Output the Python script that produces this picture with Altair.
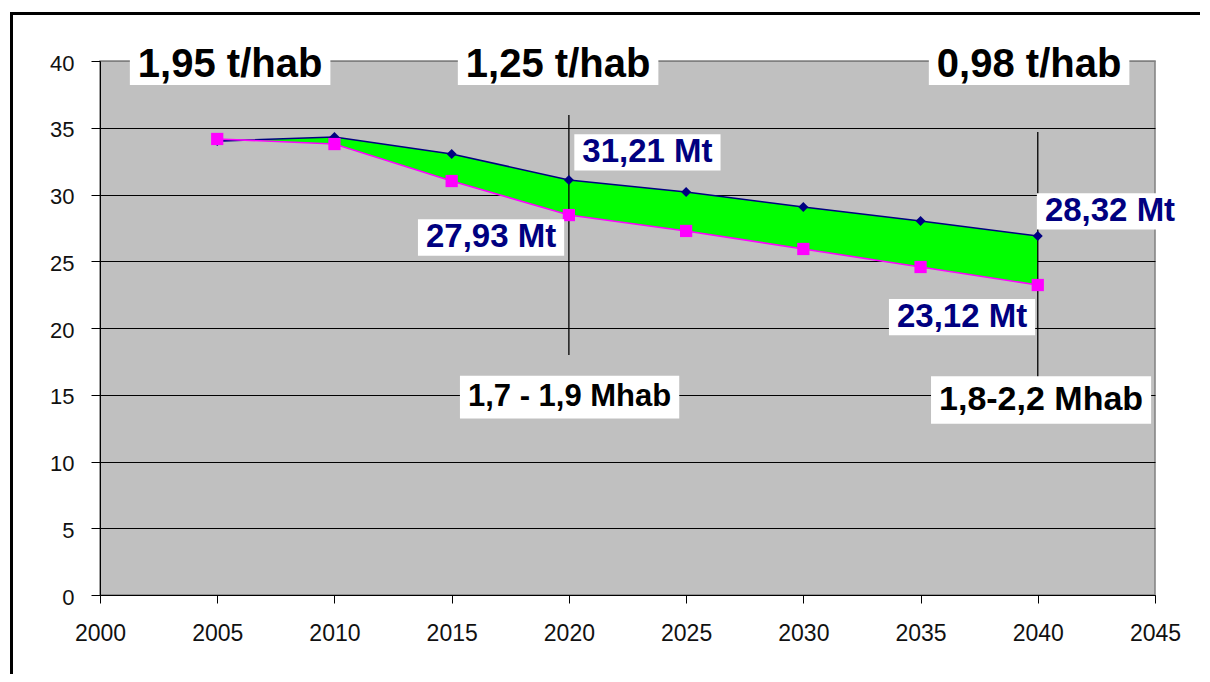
import altair as alt
import pandas as pd

# ---- data ----
years = [2005, 2010, 2015, 2020, 2025, 2030, 2035, 2040]
upper = [34.0, 34.31, 33.03, 31.09, 30.19, 29.06, 28.01, 26.89]   # navy diamonds
lower = [34.16, 33.78, 31.01, 28.46, 27.27, 25.92, 24.57, 23.22]  # magenta squares

x_ticks = [2000, 2005, 2010, 2015, 2020, 2025, 2030, 2035, 2040, 2045]
y_ticks = [0, 5, 10, 15, 20, 25, 30, 35, 40]

# per-capita annotations (top)
hab_text = ["1,95 t/hab", "1,25 t/hab", "0,98 t/hab"]
hab_year = [2005.55, 2019.54, 2039.63]
hab_value = [39.70, 39.70, 39.70]

# tonnage annotations
mt_text = ["31,21 Mt", "27,93 Mt", "28,32 Mt", "23,12 Mt"]
mt_year = [2023.35, 2016.68, 2043.08, 2036.77]
mt_value = [33.15, 26.78, 28.73, 20.82]

# population annotations
pop1_text = ["1,7 - 1,9 Mhab"]
pop1_year = [2020.03]
pop1_value = [14.83]
pop2_text = ["1,8-2,2 Mhab"]
pop2_year = [2040.14]
pop2_value = [14.61]

# vertical marker rules
rule_year = [2020, 2040]
rule_top = [35.96, 34.68]
rule_bottom = [17.98, 16.33]

# ---- layout helpers ----
W, H = 1055, 534
X0, X1 = 2000, 2045
Y0, Y1 = 0, 40
PXY = W / (X1 - X0)
PXV = H / (Y1 - Y0)

CW = {"0": .556, "1": .556, "2": .556, "3": .556, "4": .556, "5": .556, "6": .556,
      "7": .556, "8": .556, "9": .556, ",": .278, " ": .278, "t": .333, "/": .278,
      "h": .611, "a": .556, "b": .611, "M": .833, "-": .333}


def text_width(s, fs):
    return sum(CW.get(c, .6) for c in s) * fs


def ann_frame(texts, yrs, vals, fs, hfac):
    rows = []
    for t, yr, v in zip(texts, yrs, vals):
        hw = (text_width(t, fs) / 2 + 8) / PXY
        hh = (fs * hfac / 2) / PXV
        rows.append({"text": t, "year": yr, "value": v,
                     "x1": yr - hw, "x2": yr + hw, "y1": v - hh, "y2": v + hh})
    return pd.DataFrame(rows)


FONT = "Liberation Sans, Arial, sans-serif"

df = pd.DataFrame({"year": years, "upper": upper, "lower": lower})
xs = alt.Scale(domain=[X0, X1], nice=False, zero=False)
ys = alt.Scale(domain=[Y0, Y1], nice=False)

base = alt.Chart(df)

area = base.mark_area(color="#00FF00", opacity=1).encode(
    x=alt.X("year:Q", scale=xs,
            axis=alt.Axis(values=x_ticks, format="d", title=None, grid=False,
                          domainColor="black", tickColor="black", tickSize=8,
                          labelFont=FONT, labelFontSize=23, labelColor="#111111",
                          labelPadding=19, labelFlush=False)),
    y=alt.Y("upper:Q", scale=ys,
            axis=alt.Axis(values=y_ticks, title=None, grid=True,
                          gridColor=alt.expr("datum.value >= 40 ? '#808080' : 'black'"),
                          gridWidth=1.2, domainColor="black", tickColor="black",
                          tickSize=9, labelFont=FONT, labelFontSize=22,
                          labelColor="#111111", labelPadding=17, labelOffset=2)),
    y2="lower:Q",
)

rules_df = pd.DataFrame({"year": rule_year, "top": rule_top, "bottom": rule_bottom})
rules = alt.Chart(rules_df).mark_rule(color="black", strokeWidth=1.3).encode(
    x=alt.X("year:Q", scale=xs), y=alt.Y("top:Q", scale=ys), y2="bottom:Q")

line_up = base.mark_line(color="#000080", strokeWidth=1.6).encode(
    x=alt.X("year:Q", scale=xs), y=alt.Y("upper:Q", scale=ys))
line_lo = base.mark_line(color="#FF00FF", strokeWidth=1.6).encode(
    x=alt.X("year:Q", scale=xs), y=alt.Y("lower:Q", scale=ys))
pts_up = base.mark_point(shape="diamond", filled=True, color="#000080",
                         size=100, opacity=1).encode(
    x=alt.X("year:Q", scale=xs), y=alt.Y("upper:Q", scale=ys))
pts_lo = base.mark_point(shape="square", filled=True, color="#FF00FF",
                         size=150, opacity=1).encode(
    x=alt.X("year:Q", scale=xs), y=alt.Y("lower:Q", scale=ys))


def ann_layers(texts, yrs, vals, fs, hfac, color):
    adf = ann_frame(texts, yrs, vals, fs, hfac)
    c = alt.Chart(adf)
    box = c.mark_rect(color="white", opacity=1).encode(
        x=alt.X("x1:Q", scale=xs), x2="x2:Q",
        y=alt.Y("y1:Q", scale=ys), y2="y2:Q")
    txt = c.mark_text(font=FONT, fontWeight="bold", fontSize=fs, color=color,
                      align="center", baseline="middle").encode(
        x=alt.X("year:Q", scale=xs), y=alt.Y("value:Q", scale=ys), text="text:N")
    return [box, txt]


# outer picture frame (left and top edges visible; right/bottom run off the page)
frame = alt.Chart(pd.DataFrame({"a": [0]})).mark_rect(
    fillOpacity=0, stroke="black", strokeWidth=3).encode(
    x=alt.value(-88.5), x2=alt.value(1300), y=alt.value(-47.5), y2=alt.value(700))

layers = [area, rules, line_up, line_lo, pts_up, pts_lo]
layers += ann_layers(hab_text, hab_year, hab_value, 40, 1.0, "black")
layers += ann_layers(mt_text, mt_year, mt_value, 33, 1.1, "#000080")
layers += ann_layers(pop1_text, pop1_year, pop1_value, 31, 1.38, "black")
layers += ann_layers(pop2_text, pop2_year, pop2_value, 34, 1.4, "black")
layers += [frame]

chart = alt.layer(*layers).properties(
    width=W, height=H,
    autosize=alt.AutoSizeParams(type="none"),
    padding={"left": 92, "top": 53, "right": 45, "bottom": 79},
    background="white",
).configure_view(fill="#C0C0C0", stroke="#808080", strokeWidth=1.5)

chart.save("out.html", embed_options={"renderer": "svg", "actions": False})
